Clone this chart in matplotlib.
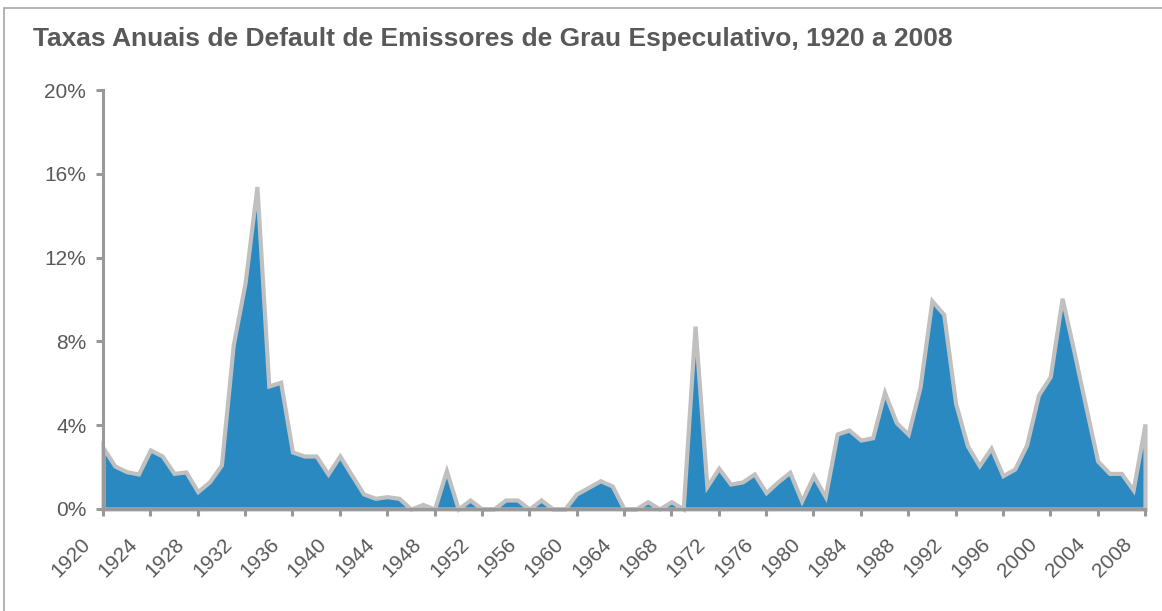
import matplotlib
matplotlib.use("Agg")
import matplotlib.pyplot as plt
import numpy as np
from matplotlib.transforms import ScaledTranslation
from matplotlib.patches import Rectangle

years = list(range(1920, 2009))
default_rate = [
    2.93, 2.05, 1.78, 1.67, 2.82, 2.53, 1.70, 1.77, 0.83, 1.30,   # 1920-1929
    2.10, 7.83, 10.80, 15.39, 5.87, 6.05, 2.72, 2.53, 2.53, 1.67,  # 1930-1939
    2.53, 1.62, 0.72, 0.51, 0.59, 0.51, 0.00, 0.22, 0.00, 1.83,   # 1940-1949
    0.00, 0.43, 0.00, 0.00, 0.43, 0.43, 0.00, 0.43, 0.00, 0.00,   # 1950-1959
    0.72, 1.03, 1.35, 1.10, 0.00, 0.00, 0.35, 0.00, 0.35, 0.00,   # 1960-1969
    8.73, 1.07, 1.94, 1.19, 1.29, 1.67, 0.78, 1.30, 1.75, 0.38,   # 1970-1979
    1.58, 0.59, 3.58, 3.77, 3.29, 3.40, 5.57, 4.12, 3.57, 5.81,   # 1980-1989
    9.94, 9.29, 5.05, 3.02, 2.07, 2.90, 1.59, 1.91, 3.05, 5.44,   # 1990-1999
    6.32, 10.06, 7.51, 4.88, 2.29, 1.70, 1.70, 0.91, 4.06,        # 2000-2008
]
assert len(years) == len(default_rate)
x_tick_years = list(range(1920, 2009, 4))
y_ticks = [0, 4, 8, 12, 16, 20]
y_tick_labels = ["0%", "4%", "8%", "12%", "16%", "20%"]
title = "Taxas Anuais de Default de Emissores de Grau Especulativo, 1920 a 2008"

plt.rcParams['font.family'] = ['Liberation Sans', 'DejaVu Sans']

W, H = 1162, 611
fig = plt.figure(figsize=(W / 100, H / 100), dpi=100)
ax = fig.add_axes([103 / W, 1 - 509 / H, (1145 - 103) / W, (509 - 90) / H])

fill_color = "#2a89c0"
edge_color = "#c0c0c0"
axis_color = "#999999"
text_color = "#595959"

ax.fill_between(years, default_rate, 0, facecolor=fill_color, edgecolor=edge_color,
                linewidth=3.0, joinstyle='miter', zorder=1, clip_on=False)

ax.set_xlim(1920, 2008)
ax.set_ylim(0, 20)
ax.set_yticks(y_ticks)
ax.set_yticklabels(y_tick_labels)
ax.set_xticks(x_tick_years)
ax.set_xticklabels([str(y) for y in x_tick_years], rotation=45, ha='right',
                   va='center', rotation_mode='anchor')

for side in ['top', 'right']:
    ax.spines[side].set_visible(False)
for side in ['left', 'bottom']:
    ax.spines[side].set_color(axis_color)
    ax.spines[side].set_linewidth(2.2)
    ax.spines[side].set_zorder(3)

ax.tick_params(axis='both', direction='out', length=5, width=2.2, color=axis_color,
               labelsize=15, labelcolor=text_color)
ax.tick_params(axis='y', pad=7)
ax.tick_params(axis='x', pad=18)

offset = ScaledTranslation(-16 / 100, 0, fig.dpi_scale_trans)
for lab in ax.get_xticklabels():
    lab.set_transform(lab.get_transform() + offset)

fig.text(33 / W, 1 - 46 / H, title, fontsize=19, fontweight='bold', color=text_color,
         ha='left', va='baseline')

frame = Rectangle((4 / W, -0.2), 1.2, 1 - 8 / H + 0.2, transform=fig.transFigure,
                  fill=False, edgecolor="#a6a6a6", linewidth=1.2, clip_on=False)
fig.add_artist(frame)

fig.savefig("out.png", dpi=100)
